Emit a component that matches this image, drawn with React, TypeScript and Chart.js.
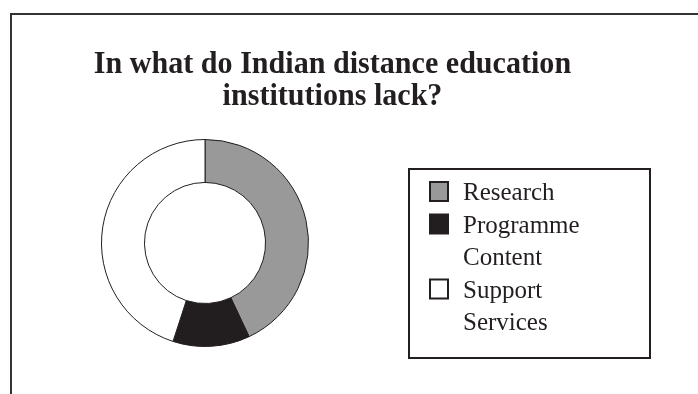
import React, { useEffect, useRef } from "react";
import { Chart, registerables } from "chart.js";

Chart.register(...registerables);

const titleLines = ["In what do Indian distance education", "institutions lack?"];
const categories = ["Research", "Programme\nContent", "Support\nServices"];
const values = [43, 12, 45];
const sliceColors = ["#999999", "#221e1f", "#ffffff"];

const W = 698;
const H = 394;

const framePlugin = {
  id: "framePlugin",
  beforeDraw(chart: any) {
    const ctx = chart.ctx;
    ctx.save();
    ctx.fillStyle = "#ffffff";
    ctx.fillRect(0, 0, W, H);
    // outer frame (only left and top visible)
    ctx.strokeStyle = "#333333";
    ctx.lineWidth = 2;
    ctx.beginPath();
    ctx.moveTo(11, H + 5);
    ctx.lineTo(11, 14);
    ctx.lineTo(W + 5, 14);
    ctx.stroke();
    // title (slightly condensed)
    ctx.fillStyle = "#231f20";
    ctx.font = "bold 31.5px 'Liberation Serif', 'Times New Roman', serif";
    ctx.textAlign = "center";
    ctx.textBaseline = "alphabetic";
    const sx = 0.955;
    ctx.save();
    ctx.scale(sx, 1);
    ctx.fillText(titleLines[0], 332.5 / sx, 73);
    ctx.fillText(titleLines[1], 332.5 / sx, 105);
    ctx.restore();
    ctx.restore();
  },
  afterDraw(chart: any) {
    const ctx = chart.ctx;
    ctx.save();
    // legend box
    ctx.strokeStyle = "#231f20";
    ctx.lineWidth = 2;
    ctx.strokeRect(409, 169, 241, 189);
    ctx.font = "25px 'Liberation Serif', 'Times New Roman', serif";
    ctx.textAlign = "left";
    ctx.textBaseline = "alphabetic";
    let baseline = 200;
    const step = 32.5;
    categories.forEach((cat, i) => {
      const lines = cat.split("\n");
      const top = baseline - 18;
      ctx.fillStyle = sliceColors[i];
      ctx.fillRect(430, top, 18, 19);
      ctx.strokeStyle = "#231f20";
      ctx.lineWidth = 2;
      ctx.strokeRect(430, top, 18, 19);
      ctx.fillStyle = "#231f20";
      lines.forEach((ln) => {
        ctx.fillText(ln, 463, baseline);
        baseline += step;
      });
    });
    ctx.restore();
  },
};

export default function App() {
  const ref = useRef<HTMLCanvasElement>(null);
  useEffect(() => {
    if (!ref.current) return;
    const chart = new Chart(ref.current, {
      type: "doughnut",
      data: {
        labels: categories,
        datasets: [
          {
            data: values,
            backgroundColor: sliceColors,
            borderColor: "#231f20",
            borderWidth: 1,
          },
        ],
      },
      options: {
        responsive: false,
        animation: false,
        devicePixelRatio: 1,
        cutout: "58.5%",
        rotation: 0,
        layout: { padding: { left: 101, top: 139, right: 389, bottom: 47 } },
        plugins: {
          legend: { display: false },
          title: { display: false },
          tooltip: { enabled: false },
        },
      },
      plugins: [framePlugin],
    });
    return () => chart.destroy();
  }, []);
  return (
    <div style={{ position: "absolute", left: 0, top: 0, width: W, height: H }}>
      <canvas ref={ref} width={W} height={H} style={{ display: "block", width: W, height: H }} />
    </div>
  );
}
